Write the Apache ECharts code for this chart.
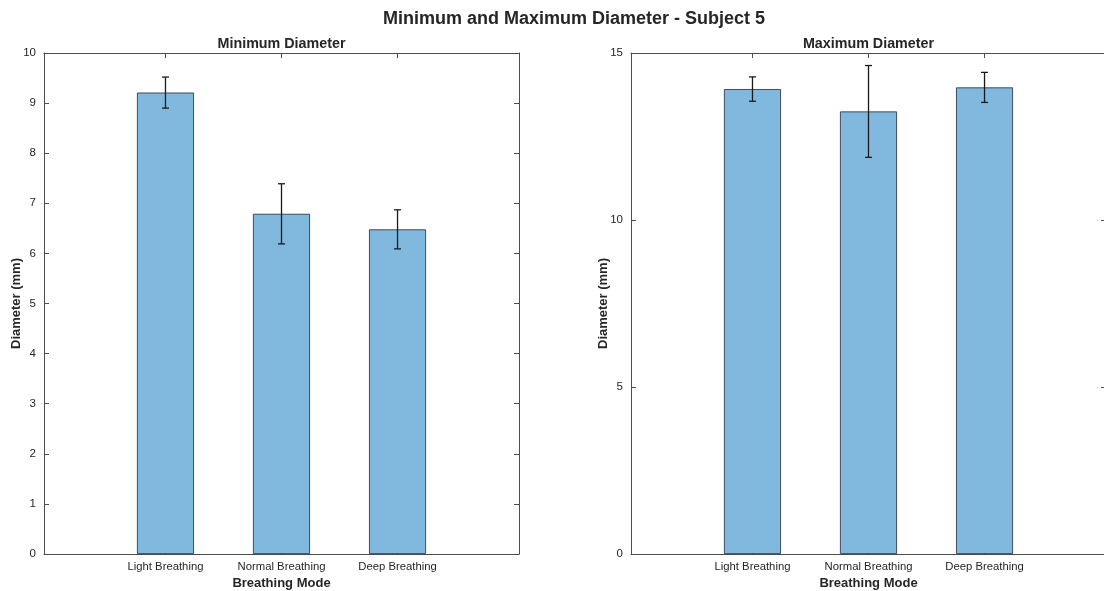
<!DOCTYPE html>
<html>
<head>
<meta charset="utf-8">
<title>Minimum and Maximum Diameter - Subject 5</title>
<script src="https://cdn.jsdelivr.net/npm/echarts@6/dist/echarts.min.js"></script>
<style>
  html, body { margin: 0; padding: 0; background: #fff; }
  #chart { width: 1104px; height: 591px; }
</style>
</head>
<body>
<div id="chart"></div>
<script>
// Breathing modes shown on both panels
const modes = ['Light Breathing', 'Normal Breathing', 'Deep Breathing'];
const modePositions = [1, 2, 3];

// Minimum diameter (mm): mean and error half-width
const minMean = [9.21, 6.79, 6.48];
const minErr = [0.31, 0.60, 0.39];

// Maximum diameter (mm): mean and error half-width
const maxMean = [13.92, 13.25, 13.97];
const maxErr = [0.365, 1.375, 0.45];

// Y tick settings for each panel
const minTicks = { max: 10, interval: 1 };
const maxTicks = { max: 15, interval: 5 };

// x range around the three bars
const xRange = [-0.047, 4.047];

const FONT = '"Liberation Sans", Arial, Helvetica, sans-serif';
const AXIS_COLOR = '#4d4d4d';
const TEXT_COLOR = '#262626';
const BAR_FILL = '#80b8de';
const BAR_EDGE = '#1f2a36';

const chart = echarts.init(document.getElementById('chart'), null, { renderer: 'canvas' });

function xAxes(gridIndex) {
  const common = {
    type: 'value', gridIndex: gridIndex, min: xRange[0], max: xRange[1],
    splitLine: { show: false },
    axisLine: { show: true, onZero: false, lineStyle: { color: AXIS_COLOR, width: 1 } }
  };
  return [
    Object.assign({}, common, {
      position: 'bottom',
      name: 'Breathing Mode', nameLocation: 'middle', nameGap: 23, nameMoveOverlap: false,
      nameTextStyle: { fontFamily: FONT, fontSize: 13, fontWeight: 'bold', color: TEXT_COLOR },
      axisTick: { show: true, inside: true, length: 5, customValues: modePositions, lineStyle: { color: AXIS_COLOR } },
      axisLabel: {
        show: true, margin: 7, customValues: modePositions,
        fontFamily: FONT, fontSize: 11.3, color: TEXT_COLOR,
        formatter: v => modes[Math.round(v) - 1] || ''
      }
    }),
    Object.assign({}, common, {
      position: 'top',
      axisTick: { show: true, inside: true, length: 5, customValues: modePositions, lineStyle: { color: AXIS_COLOR } },
      axisLabel: { show: false }
    })
  ];
}

function yAxes(gridIndex, ticks) {
  const common = {
    type: 'value', gridIndex: gridIndex, min: 0, max: ticks.max, interval: ticks.interval,
    splitLine: { show: false },
    axisLine: { show: true, onZero: false, lineStyle: { color: AXIS_COLOR, width: 1 } },
    axisTick: { show: true, inside: true, length: 5, lineStyle: { color: AXIS_COLOR } }
  };
  return [
    Object.assign({}, common, {
      position: 'left',
      name: 'Diameter (mm)', nameLocation: 'middle', nameGap: 21, nameMoveOverlap: false,
      nameTextStyle: { fontFamily: FONT, fontSize: 13, fontWeight: 'bold', color: TEXT_COLOR },
      axisLabel: { show: true, margin: 8, fontFamily: FONT, fontSize: 11.5, color: TEXT_COLOR }
    }),
    Object.assign({}, common, {
      position: 'right',
      axisLabel: { show: false }
    })
  ];
}

function barSeries(means, xIdx, yIdx) {
  return {
    type: 'bar', xAxisIndex: xIdx, yAxisIndex: yIdx,
    barWidth: 57,
    data: means.map((m, i) => [modePositions[i], m]),
    itemStyle: { color: BAR_FILL, borderColor: BAR_EDGE, borderWidth: 0.8 },
    silent: true
  };
}

function errorSeries(means, errs, xIdx, yIdx) {
  return {
    type: 'custom', xAxisIndex: xIdx, yAxisIndex: yIdx,
    data: means.map((m, i) => [modePositions[i], m - errs[i], m + errs[i]]),
    z: 10, silent: true,
    renderItem: function (params, api) {
      const x = api.value(0);
      const lo = api.coord([x, api.value(1)]);
      const hi = api.coord([x, api.value(2)]);
      const cap = 3.5;
      const style = { stroke: '#1a1a1a', lineWidth: 1.3 };
      return {
        type: 'group',
        children: [
          { type: 'line', shape: { x1: lo[0], y1: lo[1], x2: hi[0], y2: hi[1] }, style: style },
          { type: 'line', shape: { x1: hi[0] - cap, y1: hi[1], x2: hi[0] + cap, y2: hi[1] }, style: style },
          { type: 'line', shape: { x1: lo[0] - cap, y1: lo[1], x2: lo[0] + cap, y2: lo[1] }, style: style }
        ]
      };
    }
  };
}

const option = {
  backgroundColor: '#ffffff',
  animation: false,
  title: [
    {
      text: 'Minimum and Maximum Diameter - Subject 5',
      left: 569, top: 5, textAlign: 'center',
      textStyle: { fontFamily: FONT, fontSize: 18, fontWeight: 'bold', color: TEXT_COLOR }
    },
    {
      text: 'Minimum Diameter',
      left: 276.5, top: 32, textAlign: 'center',
      textStyle: { fontFamily: FONT, fontSize: 14.3, fontWeight: 'bold', color: TEXT_COLOR }
    },
    {
      text: 'Maximum Diameter',
      left: 863.5, top: 32, textAlign: 'center',
      textStyle: { fontFamily: FONT, fontSize: 14.3, fontWeight: 'bold', color: TEXT_COLOR }
    }
  ],
  grid: [
    { left: 44, top: 53, width: 475, height: 501, containLabel: false, outerBoundsMode: 'none' },
    { left: 631, top: 53, width: 475, height: 501, containLabel: false, outerBoundsMode: 'none' }
  ],
  xAxis: [].concat(xAxes(0), xAxes(1)),
  yAxis: [].concat(yAxes(0, minTicks), yAxes(1, maxTicks)),
  series: [
    barSeries(minMean, 0, 0),
    errorSeries(minMean, minErr, 0, 0),
    barSeries(maxMean, 2, 2),
    errorSeries(maxMean, maxErr, 2, 2)
  ]
};

chart.setOption(option);
</script>
</body>
</html>
